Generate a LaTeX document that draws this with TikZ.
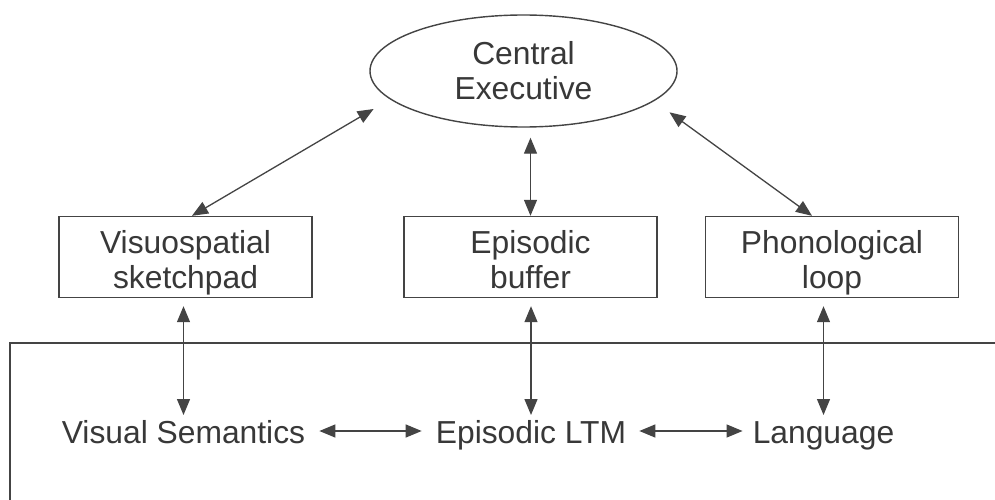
\documentclass[tikz,border=0pt]{standalone}
\usepackage{fontspec}
\setmainfont{Liberation Sans}
\usetikzlibrary{arrows.meta,shapes.geometric,calc}
\definecolor{ink}{HTML}{383838}
\definecolor{rule}{HTML}{444444}
\begin{document}
\begin{tikzpicture}[x=1pt,y=-1pt,
  lbl/.style={font=\fontsize{31.8}{36}\selectfont, text=ink, inner sep=0pt, anchor=base},
  stage/.style={draw=rule, line width=1.4pt, minimum width=253pt, minimum height=81pt, inner sep=0pt},
  exec/.style={draw=rule, line width=1.4pt, ellipse, minimum width=307pt, minimum height=112pt, inner sep=0pt},
  link/.style={draw=rule, line width=1.3pt, {Triangle[length=16pt,width=13pt]}-{Triangle[length=16pt,width=13pt]}}]
\useasboundingbox (0,0) rectangle (995,500);
\fill[white] (0,0) rectangle (995,500);

% central executive
\node[exec] (ce) at (523.5,71) {};
\node[lbl] at (523.5,65) {Central};
\node[lbl] at (523.5,100) {Executive};

% the three slave systems
\node[stage] (vs) at (185.5,257) {};
\node[lbl] at (185.5,253) {Visuospatial};
\node[lbl] at (185.5,288) {sketchpad};

\node[stage] (eb) at (530.5,257) {};
\node[lbl] at (530.5,253) {Episodic};
\node[lbl] at (530.5,288) {buffer};

\node[stage] (pl) at (832,257) {};
\node[lbl] at (832,253) {Phonological};
\node[lbl] at (832,288) {loop};

% long-term memory region
\draw[rule, line width=1.4pt] (995,343) -- (10,343) -- (10,500);
\node[lbl] (vsem) at (183.5,443) {Visual Semantics};
\node[lbl] (elt) at (531,443) {Episodic LTM};
\node[lbl] (lang) at (823.5,443) {Language};

% executive links
\draw[link, shorten >=19pt] ([xshift=6.5pt]vs.north) -- (ce.192);
\draw[link, shorten >=10pt] (eb.north) -- (eb.north |- ce.south);
\draw[link, shorten >=19pt] ([xshift=-20pt]pl.north) -- (ce.347);

% links down to long-term memory
\draw[link, shorten <=8pt, shorten >=28pt] (vs.south -| vsem.base) -- (vsem.base);
\draw[link, shorten <=8pt, shorten >=28pt] (eb.south -| elt.base) -- (elt.base);
\draw[link, shorten <=8pt, shorten >=28pt] (pl.south -| lang.base) -- (lang.base);

% links between long-term stores
\draw[link, shorten <=14pt, shorten >=14pt] ([yshift=12pt]vsem.base east) -- ([yshift=12pt]elt.base west);
\draw[link, shorten <=13pt, shorten >=10pt] ([yshift=12pt]elt.base east) -- ([yshift=12pt]lang.base west);
\end{tikzpicture}
\end{document}
